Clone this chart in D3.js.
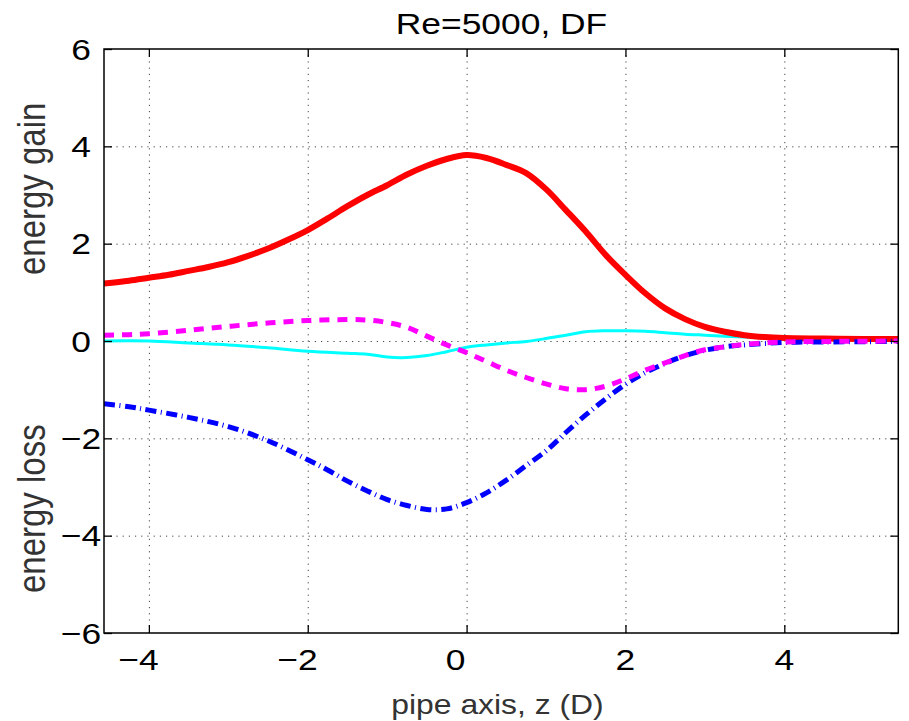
<!DOCTYPE html>
<html>
<head>
<meta charset="utf-8">
<script src="https://cdn.jsdelivr.net/npm/d3@7"></script>
<style>
  html, body { margin: 0; padding: 0; background: #fff; }
  svg { display: block; }
  text { font-family: "Liberation Sans", Arial, Helvetica, sans-serif; }
</style>
</head>
<body>
<svg id="chart" width="909" height="721"></svg>
<script>
// ---- data ----
const titleText = "Re=5000, DF";
const xLabelText = "pipe axis, z (D)";
const yLabelGain = "energy gain";
const yLabelLoss = "energy loss";
const xTicks = [-4, -2, 0, 2, 4];
const yTicks = [-6, -4, -2, 0, 2, 4, 6];
const xDomain = [-4.565, 5.435];
const yDomain = [-6, 6];

// red solid (production / gain)
const redZ = [-4.565, -4.25, -4, -3.75, -3.5, -3.25, -3, -2.75, -2.5, -2.25, -2, -1.75, -1.5, -1.25, -1, -0.75, -0.5, -0.25, 0, 0.25, 0.5, 0.75, 1, 1.25, 1.5, 1.75, 2, 2.25, 2.5, 2.75, 3, 3.25, 3.5, 3.75, 4, 4.5, 5, 5.435];
const redV = [1.18, 1.24, 1.30, 1.36, 1.44, 1.52, 1.62, 1.75, 1.90, 2.08, 2.28, 2.52, 2.77, 3.00, 3.20, 3.42, 3.60, 3.74, 3.82, 3.76, 3.62, 3.45, 3.12, 2.69, 2.25, 1.77, 1.36, 0.98, 0.67, 0.45, 0.29, 0.19, 0.12, 0.08, 0.06, 0.05, 0.04, 0.04];

// magenta dashed
const magZ = [-4.565, -4.25, -4, -3.5, -3, -2.5, -2, -1.5, -1.25, -1, -0.75, -0.5, -0.25, 0, 0.25, 0.5, 0.75, 1, 1.25, 1.5, 1.75, 2, 2.25, 2.5, 2.75, 3, 3.25, 3.5, 4, 4.5, 5.435];
const magV = [0.12, 0.13, 0.15, 0.22, 0.30, 0.37, 0.42, 0.44, 0.43, 0.38, 0.28, 0.10, -0.08, -0.24, -0.42, -0.60, -0.75, -0.88, -0.98, -1.00, -0.93, -0.78, -0.60, -0.45, -0.30, -0.18, -0.12, -0.07, -0.02, -0.01, 0.0];

// cyan thin solid
const cyanZ = [-4.565, -4, -3.5, -3, -2.5, -2, -1.5, -1.25, -1, -0.75, -0.5, -0.25, 0, 0.25, 0.5, 0.75, 1, 1.25, 1.5, 1.75, 2, 2.25, 2.5, 2.75, 3, 3.25, 3.5, 4, 4.5, 5.435];
const cyanV = [0.0, 0.0, -0.04, -0.08, -0.14, -0.21, -0.25, -0.27, -0.33, -0.34, -0.30, -0.22, -0.13, -0.08, -0.04, -0.01, 0.05, 0.12, 0.19, 0.21, 0.21, 0.20, 0.17, 0.14, 0.12, 0.10, 0.08, 0.05, 0.03, 0.02];

// blue dash-dot (dissipation / loss)
const blueZ = [-4.565, -4.25, -4, -3.5, -3, -2.5, -2, -1.75, -1.5, -1.25, -1, -0.75, -0.5, -0.25, 0, 0.25, 0.5, 0.75, 1, 1.25, 1.5, 1.75, 2, 2.25, 2.5, 2.75, 3, 3.25, 3.5, 4, 4.5, 5.435];
const blueV = [-1.29, -1.35, -1.42, -1.57, -1.76, -2.05, -2.44, -2.65, -2.88, -3.08, -3.26, -3.38, -3.46, -3.45, -3.32, -3.12, -2.86, -2.56, -2.26, -1.88, -1.52, -1.19, -0.89, -0.65, -0.46, -0.30, -0.19, -0.12, -0.08, -0.03, -0.02, -0.01];

// ---- layout ----
const svg = d3.select("#chart");
const L = 104, R = 898.3, T = 49, B = 633;
const SX = 1.18; // horizontal glyph stretch seen in the reference

const x = d3.scaleLinear().domain(xDomain).range([L, R]);
const y = d3.scaleLinear().domain(yDomain).range([B, T]);

svg.append("defs").append("clipPath").attr("id", "clip")
  .append("rect").attr("x", L).attr("y", T).attr("width", R - L).attr("height", B - T);

// grid
const gridX = svg.append("g").attr("transform", `translate(0,${B})`)
  .call(d3.axisBottom(x).tickValues(xTicks).tickSize(-(B - T)).tickFormat(""));
const gridY = svg.append("g").attr("transform", `translate(${L},0)`)
  .call(d3.axisLeft(y).tickValues(yTicks.filter(v => v > -6 && v < 6)).tickSize(-(R - L)).tickFormat(""));
[gridX, gridY].forEach(g => {
  g.select(".domain").remove();
  g.selectAll("line").attr("stroke", "#444").attr("stroke-width", 1).attr("stroke-dasharray", "1.2,5");
});

// series
const plot = svg.append("g").attr("clip-path", "url(#clip)");
function series(zs, vs) { return zs.map((z, i) => [z, vs[i]]); }
const line = d3.line().x(d => x(d[0])).y(d => y(d[1])).curve(d3.curveCatmullRom.alpha(0.5));

plot.append("path").datum(series(cyanZ, cyanV)).attr("d", line)
  .attr("fill", "none").attr("stroke", "#00ffff").attr("stroke-width", 3);
plot.append("path").datum(series(redZ, redV)).attr("d", line)
  .attr("fill", "none").attr("stroke", "#ff0000").attr("stroke-width", 6).attr("stroke-linejoin", "round");
plot.append("path").datum(series(blueZ, blueV)).attr("d", line)
  .attr("fill", "none").attr("stroke", "#0000ff").attr("stroke-width", 5).attr("stroke-dasharray", "11,4.5,1,4.5");
plot.append("path").datum(series(magZ, magV)).attr("d", line)
  .attr("fill", "none").attr("stroke", "#ff00ff").attr("stroke-width", 5).attr("stroke-dasharray", "10,8");

// ticks (inside, all four sides)
const tk = 8;
const axB = svg.append("g").attr("transform", `translate(0,${B})`).call(d3.axisBottom(x).tickValues(xTicks).tickSize(-tk).tickFormat(""));
const axT = svg.append("g").attr("transform", `translate(0,${T})`).call(d3.axisTop(x).tickValues(xTicks).tickSize(-tk).tickFormat(""));
const axL = svg.append("g").attr("transform", `translate(${L},0)`).call(d3.axisLeft(y).tickValues(yTicks).tickSize(-tk).tickFormat(""));
const axR = svg.append("g").attr("transform", `translate(${R},0)`).call(d3.axisRight(y).tickValues(yTicks).tickSize(-tk).tickFormat(""));
[axB, axT, axL, axR].forEach(g => {
  g.select(".domain").remove();
  g.selectAll("line").attr("stroke", "#000").attr("stroke-width", 1.3);
});

// box
svg.append("rect").attr("x", L).attr("y", T).attr("width", R - L).attr("height", B - T)
  .attr("fill", "none").attr("stroke", "#000").attr("stroke-width", 1.5);

// tick labels
const fmt = v => (v < 0 ? "\u2212" + Math.abs(v) : String(v));
const fs = 30;
svg.append("g").selectAll("text").data(xTicks).join("text")
  .attr("transform", d => {
    let px = x(d);
    if (d === 0) px -= 11;
    return `translate(${px},670) scale(${SX},1)`;
  })
  .attr("text-anchor", d => d < 0 ? "end" : "middle")
  .attr("dx", d => d < 0 ? fs * 0.278 : 0)
  .attr("font-size", fs).attr("fill", "#000")
  .text(fmt);

svg.append("g").selectAll("text").data(yTicks).join("text")
  .attr("transform", d => `translate(81,${y(d) + 10.5}) scale(${SX},1)`)
  .attr("text-anchor", "middle")
  .attr("font-size", fs).attr("fill", "#000")
  .text(fmt);

// title
svg.append("text").attr("transform", `translate(501.5,34) scale(${SX},1)`)
  .attr("text-anchor", "middle").attr("font-size", 30).attr("fill", "#000").text(titleText);

// x label
svg.append("text").attr("transform", `translate(497.5,714) scale(${SX},1)`)
  .attr("text-anchor", "middle").attr("font-size", 27).attr("fill", "#333").text(xLabelText);

// y labels
svg.append("text").attr("transform", `translate(45,275) scale(${SX},1) rotate(-90)`)
  .attr("text-anchor", "start").attr("font-size", 33).attr("fill", "#333").text(yLabelGain);
svg.append("text").attr("transform", `translate(45,593) scale(${SX},1) rotate(-90)`)
  .attr("text-anchor", "start").attr("font-size", 33).attr("fill", "#333").text(yLabelLoss);
</script>
</body>
</html>
